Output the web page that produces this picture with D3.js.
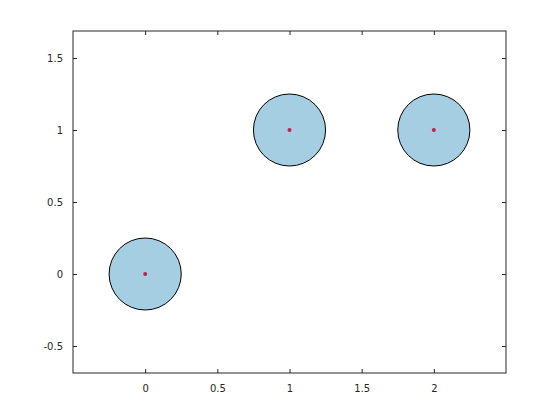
<!DOCTYPE html>
<html>
<head>
<meta charset="utf-8">
<script src="https://cdn.jsdelivr.net/npm/d3@7"></script>
<style>
  body { margin: 0; background: #fff; }
  text { font-family: "DejaVu Sans", sans-serif; font-size: 10px; fill: #262626; }
</style>
</head>
<body>
<div id="chart"></div>
<script>
// DATA
const centersX = [0, 1, 2];
const centersY = [0, 1, 1];
const radii = [0.25, 0.25, 0.25];
const xTicks = [0, 0.5, 1, 1.5, 2];
const yTicks = [-0.5, 0, 0.5, 1, 1.5];

// LAYOUT
const width = 560, height = 420;
const margin = { left: 73, right: 54, top: 31, bottom: 47 };

const svg = d3.select("#chart").append("svg")
    .attr("width", width)
    .attr("height", height);

const x = d3.scaleLinear()
    .domain([-0.5, 2.5])
    .range([margin.left, width - margin.right]);

const y = d3.scaleLinear()
    .domain([-0.6875, 1.6875])
    .range([height - margin.bottom, margin.top]);

const fmt = d => String(d);

// axes with inward ticks, mirrored on opposite sides
const tick = 4;
svg.append("g")
    .attr("transform", `translate(0,${height - margin.bottom})`)
    .call(d3.axisBottom(x).tickValues(xTicks).tickFormat(fmt).tickSizeInner(-tick).tickSizeOuter(0).tickPadding(12))
    .call(g => g.select(".domain").remove());

svg.append("g")
    .attr("transform", `translate(0,${margin.top})`)
    .call(d3.axisTop(x).tickValues(xTicks).tickFormat("").tickSizeInner(-tick).tickSizeOuter(0))
    .call(g => g.select(".domain").remove());

svg.append("g")
    .attr("transform", `translate(${margin.left},0)`)
    .call(d3.axisLeft(y).tickValues(yTicks).tickFormat(fmt).tickSizeInner(-tick).tickSizeOuter(0).tickPadding(10))
    .call(g => g.select(".domain").remove());

svg.append("g")
    .attr("transform", `translate(${width - margin.right},0)`)
    .call(d3.axisRight(y).tickValues(yTicks).tickFormat("").tickSizeInner(-tick).tickSizeOuter(0))
    .call(g => g.select(".domain").remove());

svg.selectAll(".tick line").attr("stroke", "#262626");
svg.selectAll(".tick text").attr("fill", "#404040").style("font-size", "10px");

// box
svg.append("rect")
    .attr("x", x(-0.5))
    .attr("y", y(1.6875))
    .attr("width", x(2.5) - x(-0.5))
    .attr("height", y(-0.6875) - y(1.6875))
    .attr("fill", "none")
    .attr("stroke", "#262626")
    .attr("stroke-width", 1);

// circles
const idx = d3.range(centersX.length);
svg.append("g")
  .selectAll()
  .data(idx)
  .join("ellipse")
    .attr("cx", i => x(centersX[i]))
    .attr("cy", i => y(centersY[i]))
    .attr("rx", i => x(radii[i]) - x(0))
    .attr("ry", i => y(0) - y(radii[i]))
    .attr("fill", "#a6cee3")
    .attr("stroke", "#000")
    .attr("stroke-width", 1);

// centers
svg.append("g")
  .selectAll()
  .data(idx)
  .join("circle")
    .attr("cx", i => x(centersX[i]))
    .attr("cy", i => y(centersY[i]))
    .attr("r", 2)
    .attr("fill", "#c41e4a");
</script>
</body>
</html>
